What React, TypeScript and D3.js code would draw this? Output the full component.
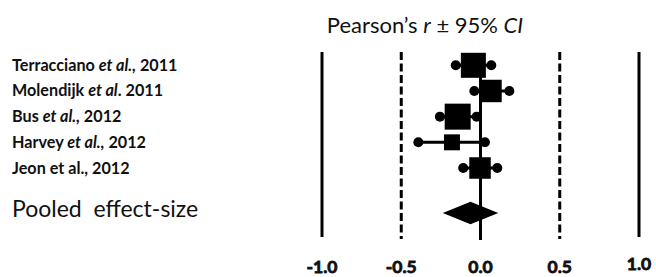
import React from "react";
import * as d3 from "d3";

// ---- data ----
const studyAuthors = ["Terracciano ", "Molendijk ", "Bus ", "Harvey ", "Jeon et al., 2012"];
const studyEtAl = ["et al.,", "et al", "et al.,", "et al.,", ""];
const studyYears = [" 2011", ". 2011", " 2012", " 2012", ""];
const estimates = [-0.045, 0.063, -0.144, -0.18, -0.003];
const lowerCI = [-0.156, -0.039, -0.256, -0.392, -0.109];
const upperCI = [0.068, 0.182, -0.024, 0.028, 0.106];
const weights = [24.8, 20.0, 26.8, 10.1, 18.3];
const pooledLabel = "Pooled  effect-size";
const pooledEstimate = -0.063;
const pooledLower = -0.238;
const pooledUpper = 0.112;
const tickValues = [-1, -0.5, 0, 0.5, 1];
const tickLabels = ["-1.0", "-0.5", "0.0", "0.5", "1.0"];
const solidRefs = [-1, 1];
const dashedRefs = [-0.5, 0.5];

// ---- style / layout ----
const W = 656;
const H = 277;
const FONT = "Lato, 'Open Sans', sans-serif";
const INK = "#111";
const tickDy = [0, 0, 0.8, 0.8, -2.5];

export default function App() {
  const x = d3.scaleLinear().domain([-1, 1]).range([322, 639]);
  const y = d3.scaleLinear().domain([0, 4]).range([65.3, 168]);
  const side = d3.scaleSqrt().domain([0, d3.max(weights) as number]).range([0, 26]);
  const pooledY = 213;
  const refTop = 52;
  const refBottom = 237;

  const diamond = d3.line()([
    [x(pooledLower), pooledY],
    [x(pooledEstimate), pooledY - 11.3],
    [x(pooledUpper), pooledY],
    [x(pooledEstimate), pooledY + 11.3],
  ]) + "Z";

  return (
    <svg
      width={W}
      height={H}
      style={{ position: "absolute", left: 0, top: 0, display: "block", background: "#fff" }}
      fontFamily={FONT}
    >
      {/* title */}
      <text x={425} y={33} textAnchor="middle" fontSize={22} fill={INK} style={{ whiteSpace: "pre" }}>
        <tspan>Pearson’s </tspan>
        <tspan fontStyle="italic">r</tspan>
        <tspan> ± 95% </tspan>
        <tspan fontStyle="italic">CI</tspan>
      </text>

      {/* reference lines */}
      {solidRefs.map((v) => (
        <line key={"s" + v} x1={x(v)} x2={x(v)} y1={refTop} y2={refBottom} stroke="#000" strokeWidth={3} />
      ))}
      {dashedRefs.map((v) => (
        <line
          key={"d" + v}
          x1={x(v)}
          x2={x(v)}
          y1={refTop}
          y2={refBottom + 2}
          stroke="#000"
          strokeWidth={3}
          strokeDasharray="8 3.5"
        />
      ))}
      {/* zero line */}
      <line x1={x(0)} x2={x(0)} y1={y(0)} y2={240} stroke="#000" strokeWidth={3} />

      {/* studies */}
      {estimates.map((e, i) => {
        const cy = y(i);
        const s = side(weights[i]);
        return (
          <g key={i}>
            <line x1={x(lowerCI[i])} x2={x(upperCI[i])} y1={cy} y2={cy} stroke="#000" strokeWidth={3} />
            <circle cx={x(lowerCI[i])} cy={cy} r={5} fill="#000" />
            <circle cx={x(upperCI[i])} cy={cy} r={5} fill="#000" />
            <rect x={x(e) - s / 2} y={cy - s / 2} width={s} height={s} fill="#000" />
          </g>
        );
      })}

      {/* pooled diamond */}
      <path d={diamond} fill="#000" />

      {/* study labels */}
      {studyAuthors.map((a, i) => (
        <text
          key={"l" + i}
          x={12}
          y={y(i) + 5.5}
          fontSize={16.2}
          fontWeight={700}
          fill={INK}
          style={{ whiteSpace: "pre" }}
        >
          <tspan>{a}</tspan>
          {studyEtAl[i] ? <tspan fontStyle="italic">{studyEtAl[i]}</tspan> : null}
          {studyYears[i] ? <tspan>{studyYears[i]}</tspan> : null}
        </text>
      ))}
      <text x={12} y={217} fontSize={23} fill={INK} style={{ whiteSpace: "pre" }}>
        {pooledLabel}
      </text>

      {/* tick labels */}
      {tickValues.map((v, i) => (
        <text
          key={"t" + v}
          x={x(v)}
          y={272.5 + tickDy[i]}
          textAnchor="middle"
          fontSize={17.5}
          fontWeight={700}
          fill={INK}
          stroke={INK}
          strokeWidth={0.8}
        >
          {tickLabels[i]}
        </text>
      ))}
    </svg>
  );
}
